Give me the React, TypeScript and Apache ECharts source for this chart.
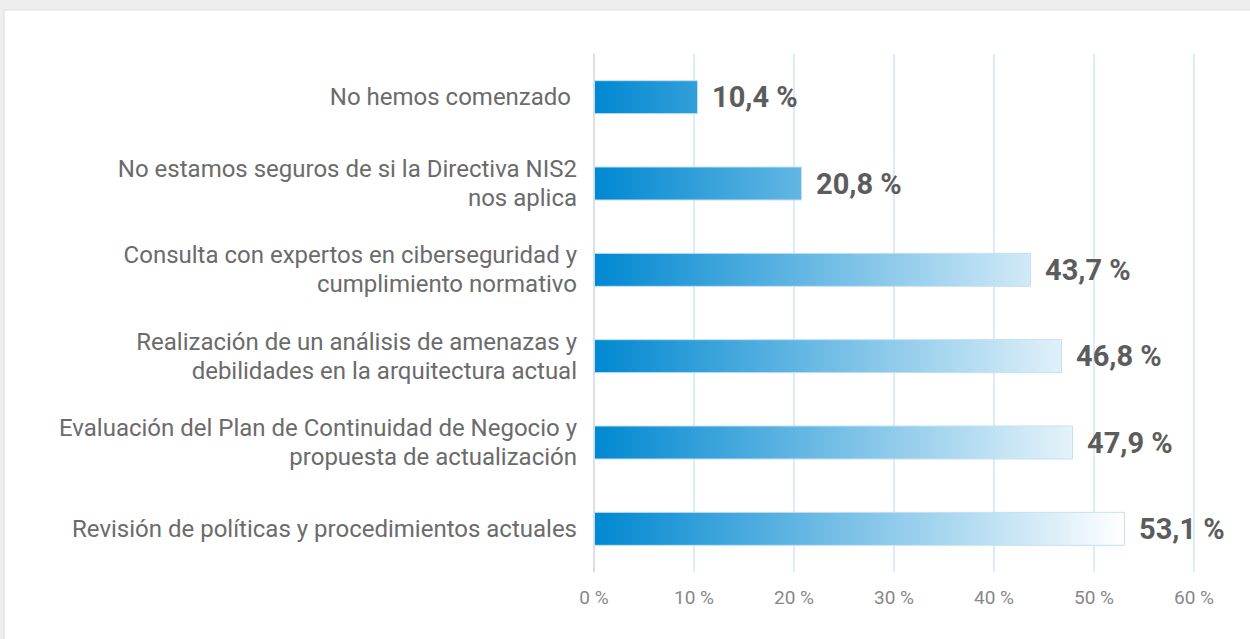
import React, { useEffect, useRef } from "react";
import * as echarts from "echarts";

const categories = [
  "No hemos comenzado ",
  "No estamos seguros de si la Directiva NIS2\nnos aplica",
  "Consulta con expertos en ciberseguridad y\ncumplimiento normativo",
  "Realización de un análisis de amenazas y\ndebilidades en la arquitectura actual",
  "Evaluación del Plan de Continuidad de Negocio y\npropuesta de actualización",
  "Revisión de políticas y procedimientos actuales",
];
const values = [10.4, 20.8, 43.7, 46.8, 47.9, 53.1];
const axisMin = 0;
const axisMax = 60;
const axisInterval = 10;

export default function App() {
  const ref = useRef<HTMLDivElement>(null);
  useEffect(() => {
    document.body.style.margin = "0";
    const chart = echarts.init(ref.current!, undefined, { renderer: "svg" });
    const gradient = new echarts.graphic.LinearGradient(
      594, 0, 1126, 0,
      [
        { offset: 0, color: "#0088d1" },
        { offset: 1, color: "#ffffff" },
      ],
      true
    );
    chart.setOption({
      animation: false,
      backgroundColor: "#eeeeee",
      graphic: [
        {
          type: "rect",
          z: -10,
          silent: true,
          shape: { x: 4, y: 10, width: 1260, height: 640 },
          style: { fill: "#ffffff", stroke: "#dedede", lineWidth: 1 },
        },
      ],
      grid: { left: 594, right: 56, top: 54, bottom: 67, containLabel: false },
      xAxis: {
        type: "value",
        min: axisMin,
        max: axisMax,
        interval: axisInterval,
        axisLine: { show: false },
        axisTick: { show: false },
        axisLabel: {
          formatter: "{value} %",
          color: "#888888",
          fontFamily: "Roboto",
          fontSize: 19,
          margin: 16,
        },
        splitLine: { lineStyle: { color: "#cfe5f7", width: 1.5 } },
      },
      yAxis: {
        type: "category",
        inverse: true,
        data: categories,
        axisLine: { show: true, lineStyle: { color: "#dddddd", width: 1.5 } },
        axisTick: { show: false },
        axisLabel: {
          color: "#6b6b6b",
          fontFamily: "Roboto",
          fontSize: 24,
          lineHeight: 29,
          margin: 17,
          align: "right",
        },
      },
      series: [
        {
          type: "bar",
          data: values,
          barWidth: 34,
          itemStyle: {
            color: gradient,
            borderColor: "#c4e0f4",
            borderWidth: 1,
          },
          label: {
            show: true,
            position: "right",
            distance: 14,
            formatter: (p: any) => p.value.toFixed(1).replace(".", ",") + " %",
            color: "#5c5c5c",
            fontFamily: "Roboto",
            fontWeight: "bold",
            fontSize: 29,
          },
        },
      ],
    });
    return () => chart.dispose();
  }, []);
  return <div ref={ref} style={{ width: 1250, height: 639 }} />;
}
